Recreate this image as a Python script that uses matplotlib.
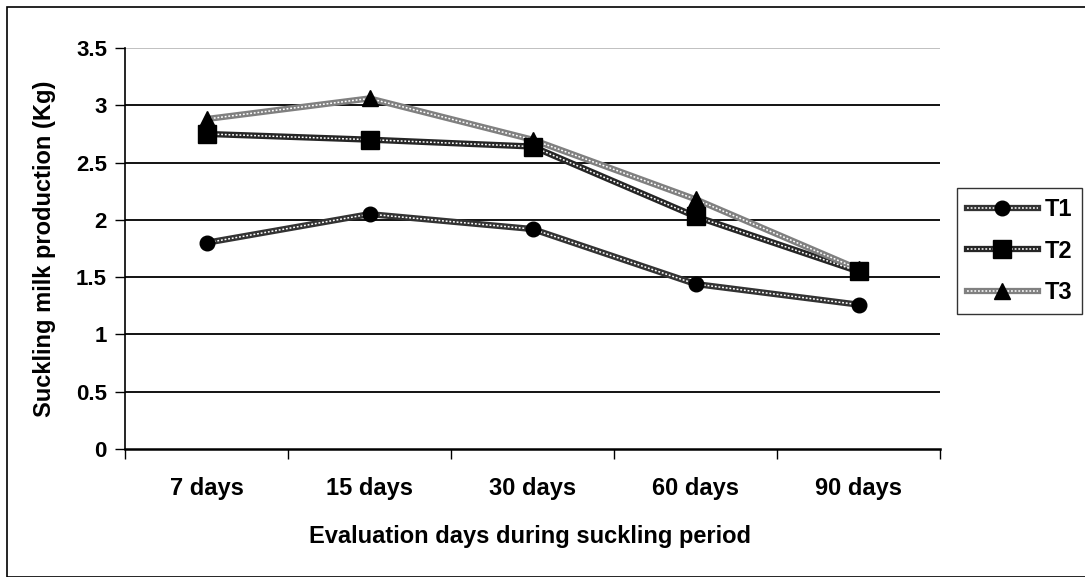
import matplotlib
matplotlib.use("Agg")
import matplotlib.pyplot as plt
from matplotlib.patches import Rectangle
from matplotlib.lines import Line2D
from matplotlib.legend_handler import HandlerTuple
import numpy as np

categories = ["7 days", "15 days", "30 days", "60 days", "90 days"]
t1 = [1.80, 2.05, 1.92, 1.44, 1.26]
t2 = [2.75, 2.70, 2.64, 2.03, 1.55]
t3 = [2.88, 3.06, 2.70, 2.18, 1.57]
series_names = ["T1", "T2", "T3"]
yticks = [0, 0.5, 1, 1.5, 2, 2.5, 3, 3.5]
ytick_labels = ["0", "0.5", "1", "1.5", "2", "2.5", "3", "3.5"]

plt.rcParams['font.family'] = ['Liberation Sans', 'DejaVu Sans']
plt.rcParams['font.weight'] = 'bold'

W, H = 1085, 577
fig = plt.figure(figsize=(W / 100, H / 100), dpi=100)
ax = fig.add_axes([125 / W, 1 - 449 / H, (940 - 125) / W, (449 - 48) / H])

# outer chart border
fig.patches.append(Rectangle((7 / W, 0.0), 1.2, 1 - 7 / H, transform=fig.transFigure,
                             fill=False, edgecolor='black', linewidth=1.2))

x = np.arange(len(categories))

# gridlines
for yv in yticks[1:]:
    ax.axhline(yv, color='#bbbbbb' if yv == 3.5 else 'black', linewidth=1.3, zorder=1)

styles = [
    (t1, 'o', 10.5, '#333333'),
    (t2, 's', 13.5, '#262626'),
    (t3, '^', 12, '#808080'),
]
handles = []
for (vals, mk, ms, col), name in zip(styles, series_names):
    ax.plot(x, vals, color=col, linewidth=4.5, zorder=3, solid_capstyle='butt')
    ax.plot(x, vals, color='white', linewidth=1.1, linestyle=(0, (1.2, 1.2)), zorder=4)
    ax.plot(x, vals, linestyle='none', marker=mk, markersize=ms, color='black', zorder=5)
    h = (Line2D([], [], color=col, linewidth=4.5),
         Line2D([], [], color='white', linewidth=1.1, linestyle=(0, (1.2, 1.2))),
         Line2D([], [], linestyle='none', marker=mk, markersize=ms, color='black'))
    handles.append(h)

ax.set_xlim(-0.5, len(categories) - 0.5)
ax.set_ylim(0, 3.5)
ax.set_yticks(yticks)
ax.set_yticklabels(ytick_labels, fontsize=16, fontweight='bold')
ax.set_xticks(x)
ax.set_xticklabels(categories, fontsize=17, fontweight='bold')
ax.set_xticks(np.arange(-0.5, len(categories), 1.0), minor=True)
ax.tick_params(axis='x', which='major', length=0, pad=20)
ax.tick_params(axis='x', which='minor', length=7, width=1, direction='out')
ax.tick_params(axis='y', which='major', length=7, width=1, direction='out', pad=6)

for s in ['top', 'right']:
    ax.spines[s].set_visible(False)
ax.spines['left'].set_linewidth(1.2)
ax.spines['bottom'].set_linewidth(1.8)

ax.set_ylabel("Suckling milk production (Kg)", fontsize=17, fontweight='bold')
ax.yaxis.set_label_coords((45 - 125) / (940 - 125), 0.5)
ax.set_xlabel("Evaluation days during suckling period", fontsize=17, fontweight='bold')
ax.xaxis.set_label_coords((530 - 125) / (940 - 125), -(537 - 449) / (449 - 48))
ax.xaxis.label.set_va('center')
ax.yaxis.label.set_va('center')

leg = fig.legend(handles, series_names, loc='upper left',
                 bbox_to_anchor=(957 / W, 1 - 188 / H),
                 handler_map={tuple: HandlerTuple(ndivide=1)},
                 handlelength=3.0, fontsize=17, frameon=True, fancybox=False,
                 borderpad=0.42, labelspacing=0.79, handletextpad=0.3, borderaxespad=0)
leg.get_frame().set_edgecolor('black')
leg.get_frame().set_linewidth(1.0)
for t in leg.get_texts():
    t.set_fontweight('bold')

fig.savefig("out.png", dpi=100)
